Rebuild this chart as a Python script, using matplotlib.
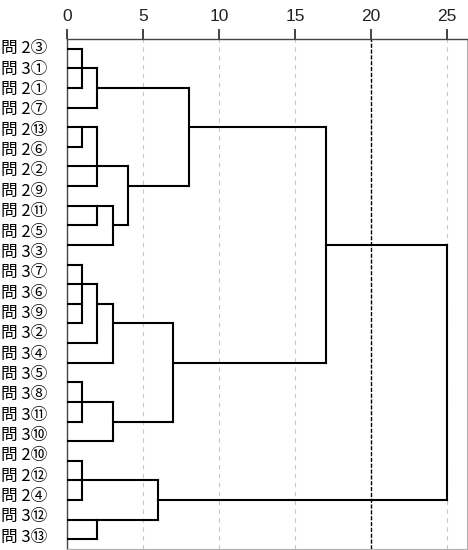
import numpy as np
import matplotlib
matplotlib.use("Agg")
import matplotlib.pyplot as plt

plt.rcParams['font.family'] = ['Liberation Sans', 'Noto Sans CJK JP', 'DejaVu Sans']

# 項目ラベル（上から順）
labels = ["問 2③", "問 3①", "問 2①", "問 2⑦", "問 2⑬", "問 2⑥", "問 2②", "問 2⑨",
          "問 2⑪", "問 2⑤", "問 3③", "問 3⑦", "問 3⑥", "問 3⑨", "問 3②", "問 3④",
          "問 3⑤", "問 3⑧", "問 3⑪", "問 3⑩", "問 2⑩", "問 2⑫", "問 2④", "問 3⑫", "問 3⑬"]

# 樹形図の葉の数（線は26本ある）
n_leaves = 26

# 結合: 子ノード（0-25 が葉, 26 以降が結合済みクラスタ）と再調整距離
merge_children = [[0, 1, 2], [26, 3], [4, 5], [28, 6, 7], [8, 9], [30, 10],
                  [29, 31], [27, 32], [11, 12, 13, 14], [34, 15], [35, 16],
                  [17, 18, 19], [37, 20], [36, 38], [33, 39],
                  [21, 22, 23], [24, 25], [41, 42], [40, 43]]
merge_height = [1, 2, 1, 2, 2, 3, 4, 8, 1, 2, 3, 1, 3, 7, 17, 1, 2, 6, 25]

x_ticks = [0, 5, 10, 15, 20, 25]
cut_level = 20

fig = plt.figure(figsize=(4.68, 5.50), dpi=100)
ax = fig.add_axes([0.1432, 0.0018, 0.8547, 0.9273])

# 樹形図を描く
row = {i: i for i in range(n_leaves)}
height = {i: 0 for i in range(n_leaves)}
for k, (ch, h) in enumerate(zip(merge_children, merge_height)):
    node = n_leaves + k
    rows = [row[c] for c in ch]
    for c in ch:
        ax.plot([height[c], h], [row[c], row[c]], color='black', lw=1.5,
                solid_capstyle='projecting', zorder=3)
    ax.plot([h, h], [min(rows), max(rows)], color='black', lw=1.5,
            solid_capstyle='projecting', zorder=3)
    if len(ch) % 2:
        row[node] = rows[len(ch) // 2]
    else:
        row[node] = (rows[0] + rows[-1]) // 2
    height[node] = h

# 補助線
for xv in x_ticks[1:]:
    if xv == cut_level:
        ax.axvline(xv, color='black', lw=1.0, ls=(0, (3, 1.2)), zorder=2)
    else:
        ax.axvline(xv, color='#c8c8c8', lw=0.8, ls=(0, (4, 4)), zorder=1)

ax.set_xlim(0, 26.3)
ax.set_ylim(25.5, -0.5)

ax.xaxis.tick_top()
ax.set_xticks(x_ticks)
ax.set_xticklabels([str(v) for v in x_ticks], fontsize=12.5)
ax.tick_params(axis='x', length=7, width=1.2, pad=4, colors='#222222')

ax.set_yticks(np.linspace(-0.1, 24.8, len(labels)))
ax.set_yticklabels(labels, fontsize=12, family=['Noto Sans CJK JP', 'DejaVu Sans'])
ax.tick_params(axis='y', length=0, pad=14)

for side in ['left', 'top']:
    ax.spines[side].set_color('#444444')
    ax.spines[side].set_linewidth(1.0)
for side in ['right', 'bottom']:
    ax.spines[side].set_color('#b0b0b0')
    ax.spines[side].set_linewidth(0.8)

plt.savefig("out.png", dpi=100)
